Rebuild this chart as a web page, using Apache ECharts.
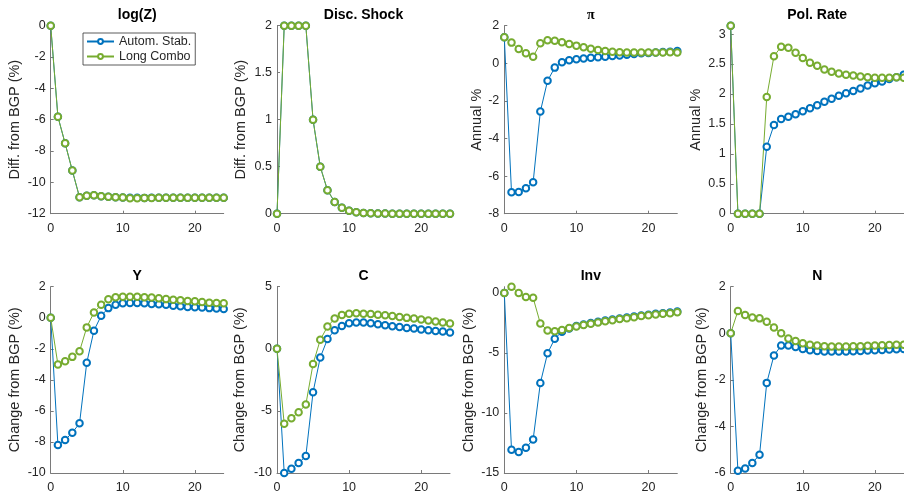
<!DOCTYPE html>
<html>
<head>
<meta charset="utf-8">
<script src="https://cdn.jsdelivr.net/npm/echarts@6/dist/echarts.min.js"></script>
<style>
  html, body { margin: 0; padding: 0; background: #fff; }
  #chart { width: 904px; height: 494px; }
</style>
</head>
<body>
<div id="chart"></div>
<script>
// horizon (quarters)
const periods = [0, 1, 2, 3, 4, 5, 6, 7, 8, 9, 10, 11, 12, 13, 14, 15, 16, 17, 18, 19, 20, 21, 22, 23, 24];
const seriesNames = ["Autom. Stab.", "Long Combo"];
const panelTitles = ["log(Z)", "Disc. Shock", "π", "Pol. Rate", "Y", "C", "Inv", "N"];
const yNames = ["Diff. from BGP (%)", "Diff. from BGP (%)", "Annual %", "Annual %",
  "Change from BGP (%)", "Change from BGP (%)", "Change from BGP (%)", "Change from BGP (%)"];
const xTicks = [0, 10, 20];

// panel values: [Autom. Stab., Long Combo]
const logZAuto = [0, -5.81, -7.51, -9.25, -10.95, -10.85, -10.82, -10.88, -10.92, -10.95, -10.96, -10.98, -10.98, -10.99, -10.98, -10.98, -10.98, -10.98, -10.98, -10.98, -10.98, -10.98, -10.98, -10.98, -10.98];
const logZCombo = [0, -5.81, -7.51, -9.25, -10.95, -10.85, -10.82, -10.88, -10.92, -10.95, -10.97, -11.01, -11.02, -11.0, -10.99, -10.98, -10.98, -10.98, -10.98, -10.98, -10.98, -10.98, -10.98, -10.98, -10.98];
const discAuto = [0, 2, 2, 2, 2, 1.0, 0.5, 0.25, 0.125, 0.063, 0.031, 0.016, 0.008, 0.004, 0.002, 0.001, 0, 0, 0, 0, 0, 0, 0, 0, 0];
const discCombo = [0, 2, 2, 2, 2, 1.0, 0.5, 0.25, 0.125, 0.063, 0.031, 0.016, 0.008, 0.004, 0.002, 0.001, 0, 0, 0, 0, 0, 0, 0, 0, 0];
const piAuto = [1.38, -6.86, -6.85, -6.65, -6.33, -2.57, -0.93, -0.23, 0.05, 0.16, 0.21, 0.25, 0.3, 0.32, 0.35, 0.39, 0.42, 0.46, 0.5, 0.53, 0.55, 0.57, 0.6, 0.62, 0.66];
const piCombo = [1.38, 1.1, 0.76, 0.53, 0.35, 1.07, 1.22, 1.2, 1.12, 1.03, 0.94, 0.86, 0.78, 0.71, 0.66, 0.62, 0.59, 0.58, 0.57, 0.57, 0.57, 0.58, 0.58, 0.59, 0.58];
const rateAuto = [3.14, 0, 0, 0, 0, 1.12, 1.48, 1.58, 1.62, 1.66, 1.71, 1.76, 1.81, 1.87, 1.92, 1.97, 2.01, 2.05, 2.09, 2.14, 2.18, 2.21, 2.25, 2.28, 2.32];
const rateCombo = [3.14, 0, 0, 0, 0, 1.95, 2.63, 2.79, 2.77, 2.69, 2.6, 2.52, 2.47, 2.41, 2.37, 2.34, 2.32, 2.31, 2.29, 2.28, 2.27, 2.27, 2.27, 2.28, 2.27];
const yAuto = [0, -8.19, -7.87, -7.4, -6.8, -2.9, -0.83, 0.13, 0.62, 0.83, 0.93, 0.95, 0.95, 0.93, 0.89, 0.87, 0.83, 0.78, 0.74, 0.7, 0.68, 0.66, 0.62, 0.6, 0.57];
const yCombo = [0, -3.01, -2.8, -2.52, -2.16, -0.62, 0.34, 0.83, 1.19, 1.32, 1.36, 1.36, 1.36, 1.32, 1.3, 1.25, 1.2, 1.16, 1.12, 1.08, 1.06, 1.02, 0.97, 0.95, 0.93];
const cAuto = [0, -10, -9.65, -9.2, -8.64, -3.5, -0.7, 0.78, 1.5, 1.84, 2.06, 2.11, 2.11, 2.06, 1.98, 1.9, 1.82, 1.76, 1.68, 1.63, 1.55, 1.5, 1.44, 1.39, 1.31];
const cCombo = [0, -6.04, -5.59, -5.11, -4.49, -1.23, 0.72, 1.79, 2.43, 2.73, 2.83, 2.86, 2.83, 2.81, 2.75, 2.7, 2.65, 2.57, 2.49, 2.43, 2.35, 2.27, 2.19, 2.11, 2.03];
const invAuto = [0, -13.07, -13.26, -12.9, -12.21, -7.51, -5.03, -3.81, -3.23, -2.96, -2.76, -2.62, -2.51, -2.4, -2.29, -2.21, -2.13, -2.04, -1.96, -1.88, -1.82, -1.74, -1.69, -1.63, -1.55];
const invCombo = [0, 0.52, 0, -0.33, -0.41, -2.54, -3.12, -3.2, -3.09, -2.93, -2.79, -2.68, -2.57, -2.46, -2.35, -2.27, -2.18, -2.1, -2.02, -1.93, -1.85, -1.8, -1.74, -1.69, -1.6];
const nAuto = [0, -5.9, -5.81, -5.57, -5.22, -2.13, -0.95, -0.53, -0.53, -0.59, -0.67, -0.73, -0.76, -0.78, -0.78, -0.78, -0.78, -0.77, -0.76, -0.74, -0.73, -0.72, -0.7, -0.69, -0.67];
const nCombo = [0, 0.96, 0.78, 0.68, 0.64, 0.49, 0.25, 0.0, -0.22, -0.33, -0.43, -0.49, -0.53, -0.56, -0.57, -0.57, -0.57, -0.56, -0.56, -0.54, -0.53, -0.51, -0.5, -0.49, -0.49];

// y tick labels per panel
const yTicks = [
  [-12, -10, -8, -6, -4, -2, 0],
  [0, 0.5, 1, 1.5, 2],
  [-8, -6, -4, -2, 0, 2],
  [0, 0.5, 1, 1.5, 2, 2.5, 3],
  [-10, -8, -6, -4, -2, 0, 2],
  [-10, -5, 0, 5],
  [-15, -10, -5, 0],
  [-6, -4, -2, 0, 2],
];

const panels = [
  [logZAuto, logZCombo], [discAuto, discCombo], [piAuto, piCombo], [rateAuto, rateCombo],
  [yAuto, yCombo], [cAuto, cCombo], [invAuto, invCombo], [nAuto, nCombo],
];

const colors = ["#0072BD", "#77AC30"];
const font = "'Liberation Sans', Arial, Helvetica, sans-serif";
const textColor = "#262626";
const axisColor = "#7a7a7a";

const colLeft = [50.7, 277, 504.3, 730.7];
const rowTop = [25.7, 286.7];
const plotW = 173;
const plotH = 188;
const nameGaps = [28.5, 29, 19.3, 27, 28.5, 29.5, 28.3, 21];

const chart = echarts.init(document.getElementById("chart"), null, { renderer: "canvas" });

const grids = [], xAxes = [], yAxes = [], series = [], titles = [];
panels.forEach((pair, i) => {
  const col = i % 4, row = Math.floor(i / 4);
  const ticks = yTicks[i];
  grids.push({ left: colLeft[col], top: rowTop[row], width: plotW, height: plotH, containLabel: false });
  xAxes.push({
    type: "value", gridIndex: i, min: 0, max: 24,
    axisLine: { onZero: false, lineStyle: { color: axisColor, width: 1 } },
    axisTick: { inside: true, length: 3, lineStyle: { color: axisColor }, customValues: xTicks },
    axisLabel: { color: textColor, fontSize: 12.5, fontFamily: font, margin: 8, customValues: xTicks },
    splitLine: { show: false },
  });
  yAxes.push({
    type: "value", gridIndex: i,
    min: ticks[0],
    max: (i === 3 || i === 6) ? "dataMax" : ticks[ticks.length - 1],
    name: yNames[i], nameLocation: "middle", nameGap: nameGaps[i],
    nameTextStyle: { color: textColor, fontSize: 14.5, fontFamily: font },
    axisLine: { show: true, onZero: false, lineStyle: { color: axisColor, width: 1 } },
    axisTick: { show: true, inside: true, length: 3, lineStyle: { color: axisColor }, customValues: ticks },
    axisLabel: { color: textColor, fontSize: 12.5, fontFamily: font, margin: 5, customValues: ticks },
    splitLine: { show: false },
  });
  pair.forEach((vals, s) => {
    series.push({
      name: seriesNames[s], type: "line",
      xAxisIndex: i, yAxisIndex: i,
      data: periods.map((p, k) => [p, vals[k]]),
      symbol: "emptyCircle", symbolSize: 6.5, showAllSymbol: true,
      clip: false,
      lineStyle: { color: colors[s], width: 1 },
      itemStyle: { color: colors[s], borderColor: colors[s], borderWidth: 0.85 },
      emphasis: { disabled: true },
    });
  });
  titles.push({
    type: "text",
    x: colLeft[col] + plotW / 2, y: rowTop[row] - 10.5,
    style: {
      text: panelTitles[i], align: "center", verticalAlign: "middle",
      font: (i === 2 ? "bold 14px 'Liberation Serif', serif" : "bold 14px " + font), fill: "#000",
    },
  });
});

chart.setOption({
  animation: false,
  grid: grids,
  xAxis: xAxes,
  yAxis: yAxes,
  series: series,
  graphic: titles,
  legend: {
    data: seriesNames,
    orient: "vertical",
    left: 83, top: 33,
    padding: [2, 4, 2, 3],
    itemGap: 2,
    itemWidth: 27, itemHeight: 6,
    backgroundColor: "#fff",
    borderColor: "#333", borderWidth: 0.8,
    textStyle: { color: textColor, fontSize: 12.5, fontFamily: font },
    selectedMode: false,
  },
});
</script>
</body>
</html>
